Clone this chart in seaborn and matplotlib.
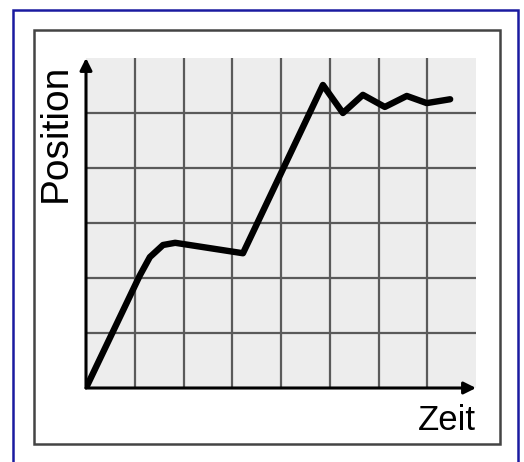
import matplotlib
matplotlib.use("Agg")
import matplotlib.pyplot as plt
import seaborn as sns
import pandas as pd
from matplotlib.patches import Rectangle

# Values (grid units: 8 columns, 6 rows)
zeit = [0, 1.1, 1.31, 1.58, 1.83, 3.22, 4.86, 5.27, 5.68, 6.13, 6.58, 6.99, 7.47]
position = [0, 2.04, 2.38, 2.60, 2.64, 2.45, 5.51, 5.0, 5.33, 5.11, 5.31, 5.18, 5.25]
x_label = "Zeit"
y_label = "Position"

df = pd.DataFrame({"zeit": zeit, "position": position})

sns.set_style("white")
plt.rcParams["font.family"] = ["Liberation Sans", "DejaVu Sans"]

W, H = 524, 462
fig = plt.figure(figsize=(W / 100, H / 100), dpi=100)

# outer navy frame and inner grey box
fig.patches.append(Rectangle((13 / W, -0.05), 505 / W, (462 - 10) / H + 0.05,
                             transform=fig.transFigure, fill=False,
                             edgecolor="#1a1aa0", lw=1.8))
fig.patches.append(Rectangle((34 / W, (462 - 444) / H), 466 / W, 414 / H,
                             transform=fig.transFigure, fill=False,
                             edgecolor="#444444", lw=1.8))

ax = fig.add_axes([86 / W, (462 - 388) / H, 390 / W, 330 / H])
ax.set_facecolor("#ededed")
sns.lineplot(data=df, x="zeit", y="position", ax=ax, color="black",
             lw=4.6, solid_joinstyle="round", solid_capstyle="round")

ax.set_xlim(0, 8)
ax.set_ylim(0, 6)
ax.set_xticks(range(1, 8))
ax.set_yticks(range(1, 6))
ax.set_xticklabels([])
ax.set_yticklabels([])
ax.tick_params(length=0)
ax.grid(True, color="#5a5a5a", lw=1.6)
ax.set_axisbelow(True)
ax.set_xlabel("")
ax.set_ylabel("")
for s in ax.spines.values():
    s.set_visible(False)

arrow = dict(arrowstyle="-|>", lw=2.2, color="black", mutation_scale=18,
             shrinkA=0, shrinkB=0)
ax.annotate("", xy=(8, 0), xytext=(0, 0), arrowprops=arrow, annotation_clip=False)
ax.annotate("", xy=(0, 6), xytext=(0, 0), arrowprops=arrow, annotation_clip=False)

fig.text(476 / W, (462 - 437) / H, x_label, ha="right", va="bottom",
         fontsize=25, color="black")
fig.text(38 / W, (462 - 64) / H, y_label, ha="left", va="top", rotation=90,
         fontsize=28, color="black")

fig.savefig("out.png", dpi=100)
